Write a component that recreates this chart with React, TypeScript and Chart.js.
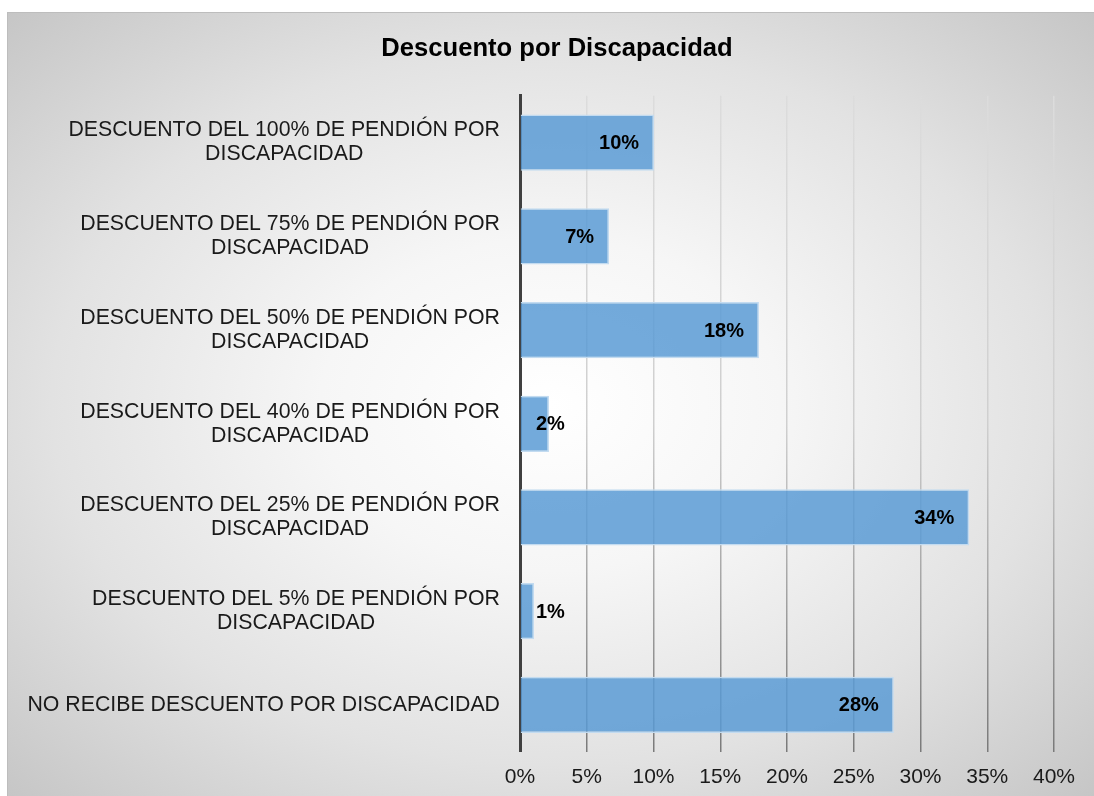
import React, { useEffect, useRef } from "react";
import { Chart, registerables } from "chart.js";

Chart.register(...registerables);

const TITLE = "Descuento por Discapacidad";
const CATEGORIES: string[][] = [
  ["DESCUENTO DEL 100% DE PENDIÓN POR", "DISCAPACIDAD"],
  ["DESCUENTO DEL 75% DE PENDIÓN POR", "DISCAPACIDAD"],
  ["DESCUENTO DEL 50% DE PENDIÓN POR", "DISCAPACIDAD"],
  ["DESCUENTO DEL 40% DE PENDIÓN POR", "DISCAPACIDAD"],
  ["DESCUENTO DEL 25% DE PENDIÓN POR", "DISCAPACIDAD"],
  ["DESCUENTO DEL 5% DE PENDIÓN POR", "DISCAPACIDAD"],
  ["NO RECIBE DESCUENTO POR DISCAPACIDAD"],
];
const VALUES: number[] = [10.04, 6.67, 17.9, 2.17, 33.65, 1.05, 28.0];
const X_MAX = 40;
const X_STEP = 5;

const FONT = "Arial, 'Liberation Sans', sans-serif";

const categoryLabelsPlugin = {
  id: "categoryLabels",
  afterDraw(chart: any) {
    const ctx = chart.ctx;
    const y = chart.scales.y;
    const right = chart.chartArea.left - 20;
    ctx.save();
    ctx.font = `21.3px ${FONT}`;
    ctx.fillStyle = "#1a1a1a";
    ctx.textBaseline = "middle";
    ctx.textAlign = "center";
    const lh = 24;
    CATEGORIES.forEach((lines, i) => {
      const cy = y.getPixelForValue(i);
      const w = Math.max(...lines.map((l) => ctx.measureText(l).width));
      const cx = right - w / 2;
      const startY = cy - ((lines.length - 1) * lh) / 2;
      lines.forEach((l, j) => ctx.fillText(l, cx, startY + j * lh));
    });
    ctx.restore();
  },
};

const valueLabelsPlugin = {
  id: "valueLabels",
  afterDatasetsDraw(chart: any) {
    const ctx = chart.ctx;
    const meta = chart.getDatasetMeta(0);
    const left = chart.chartArea.left;
    ctx.save();
    ctx.font = `bold 20px ${FONT}`;
    ctx.fillStyle = "#000";
    ctx.textBaseline = "middle";
    ctx.textAlign = "left";
    meta.data.forEach((bar: any, i: number) => {
      const txt = Math.round(VALUES[i]) + "%";
      const w = ctx.measureText(txt).width;
      let x = bar.x - 15 - w;
      if (x < left + 16) x = left + 16;
      ctx.fillText(txt, x, bar.y + 1);
    });
    ctx.restore();
  },
};

export default function App() {
  const ref = useRef<HTMLCanvasElement>(null);
  useEffect(() => {
    if (!ref.current) return;
    const chart = new Chart(ref.current, {
      type: "bar",
      data: {
        labels: CATEGORIES.map((c) => c.join(" ")),
        datasets: [
          {
            data: VALUES,
            backgroundColor: "rgba(91,155,213,0.85)",
            borderColor: "#c3dbf0",
            borderWidth: 1.5,
            barPercentage: 0.6,
            categoryPercentage: 1,
          },
        ],
      },
      options: {
        indexAxis: "y",
        animation: false,
        responsive: false,
        maintainAspectRatio: false,
        layout: { padding: { left: 60, right: 40, top: 0, bottom: -7 } },
        plugins: {
          legend: { display: false },
          tooltip: { enabled: false },
          title: {
            display: true,
            text: TITLE,
            color: "#000",
            font: { family: FONT, size: 25.6, weight: "bold", lineHeight: 1.2 },
            padding: { top: 34, bottom: 31 },
          },
        },
        scales: {
          x: {
            min: 0,
            max: X_MAX,
            ticks: {
              stepSize: X_STEP,
              padding: 13,
              color: "#1a1a1a",
              font: { family: FONT, size: 21 },
              callback: (v: any) => v + "%",
            },
            grid: {
              drawTicks: false,
              tickLength: 0,
              lineWidth: 1.5,
              color: (c: any) => {
                const chart = c.chart;
                const ca = chart.chartArea;
                if (!ca) return "#cccccc";
                const g = chart.ctx.createLinearGradient(0, ca.top, 0, ca.bottom);
                g.addColorStop(0, "#dcdcdc");
                g.addColorStop(0.5, "#cfcfcf");
                g.addColorStop(1, "#7a7a7a");
                return g;
              },
            },
            border: { display: false },
          },
          y: {
            ticks: { display: false },
            grid: { display: false, drawTicks: false, tickLength: 0 },
            border: { display: true, color: "#404040", width: 3 },
            afterFit: (scale: any) => {
              scale.width = 460;
            },
          },
        },
      },
      plugins: [categoryLabelsPlugin, valueLabelsPlugin],
    });
    return () => chart.destroy();
  }, []);

  return (
    <div
      style={{
        position: "fixed",
        left: 0,
        top: 0,
        width: 1094,
        height: 796,
        background: "#ffffff",
        overflow: "hidden",
      }}
    >
      <div
        style={{
          position: "absolute",
          left: 7,
          top: 12,
          right: 0,
          bottom: 0,
          borderLeft: "1px solid #bdbdbd",
          borderTop: "1px solid #bdbdbd",
          background:
            "radial-gradient(ellipse at 50% 50%, #ffffff 0%, #f6f6f6 30%, #e2e2e2 65%, #c6c6c6 100%)",
        }}
      />
      <canvas
        ref={ref}
        width={1094}
        height={796}
        style={{ position: "absolute", left: 0, top: 0, width: 1094, height: 796 }}
      />
    </div>
  );
}
